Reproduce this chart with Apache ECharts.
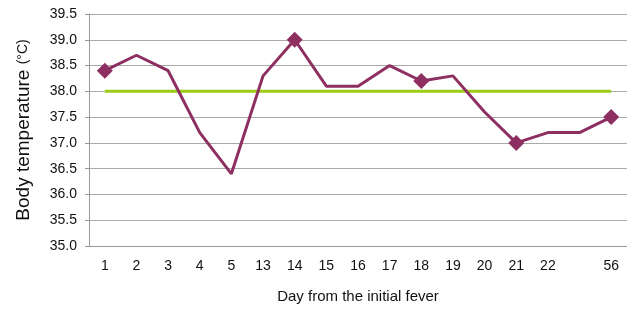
<!DOCTYPE html>
<html>
<head>
<meta charset="utf-8">
<script src="https://cdn.jsdelivr.net/npm/echarts@6/dist/echarts.min.js"></script>
<style>
  html, body { margin: 0; padding: 0; background: #fff; }
  #chart { width: 627px; height: 309px; }
</style>
</head>
<body>
<div id="chart"></div>
<script>
// day labels (one slot between 22 and 56 has no label)
const days = ['1', '2', '3', '4', '5', '13', '14', '15', '16', '17', '18', '19', '20', '21', '22', '', '56'];
const temps = [38.4, 38.7, 38.4, 37.2, 36.4, 38.3, 39.0, 38.1, 38.1, 38.5, 38.2, 38.3, 37.6, 37.0, 37.2, 37.2, 37.5];
// points drawn with a diamond marker
const markedDays = [0, 6, 10, 13, 16];
const feverLine = 38.0;

const chart = echarts.init(document.getElementById('chart'));

const tempData = temps.map((v, i) => {
    if (markedDays.indexOf(i) >= 0) {
        return { value: v, symbol: 'diamond', symbolSize: 16 };
    }
    return { value: v, symbol: 'none' };
});

chart.setOption({
    animation: false,
    textStyle: { fontFamily: 'Liberation Sans, Arial, sans-serif' },
    grid: { left: 89, right: -2, top: 14, bottom: 63 },
    xAxis: {
        type: 'category',
        data: days,
        boundaryGap: true,
        name: 'Day from the initial fever',
        nameLocation: 'middle',
        nameGap: 43,
        nameTextStyle: { fontSize: 15, color: '#111' },
        axisLine: { lineStyle: { color: '#999' } },
        axisTick: { length: 5, lineStyle: { color: '#888' } },
        axisLabel: { fontSize: 14, color: '#111', margin: 13 }
    },
    yAxis: {
        type: 'value',
        min: 35,
        max: 39.5,
        interval: 0.5,
        name: '{a|Body temperature }{b|(°C)}',
        nameLocation: 'middle',
        nameGap: 56,
        nameTextStyle: {
            rich: {
                a: { fontSize: 19, color: '#111' },
                b: { fontSize: 14, color: '#111' }
            }
        },
        axisLine: { show: true, lineStyle: { color: '#999' } },
        axisTick: { show: true, length: 4, lineStyle: { color: '#999' } },
        axisLabel: {
            fontSize: 14,
            color: '#111',
            margin: 12,
            formatter: v => v.toFixed(1)
        },
        splitLine: { lineStyle: { color: '#aaa' } }
    },
    series: [
        {
            type: 'line',
            data: days.map(() => feverLine),
            symbol: 'none',
            lineStyle: { color: '#9ccc1a', width: 3 },
            z: 2
        },
        {
            type: 'line',
            data: tempData,
            lineStyle: { color: '#8e2f62', width: 3 },
            itemStyle: { color: '#8e2f62' },
            z: 3
        }
    ]
});
</script>
</body>
</html>
